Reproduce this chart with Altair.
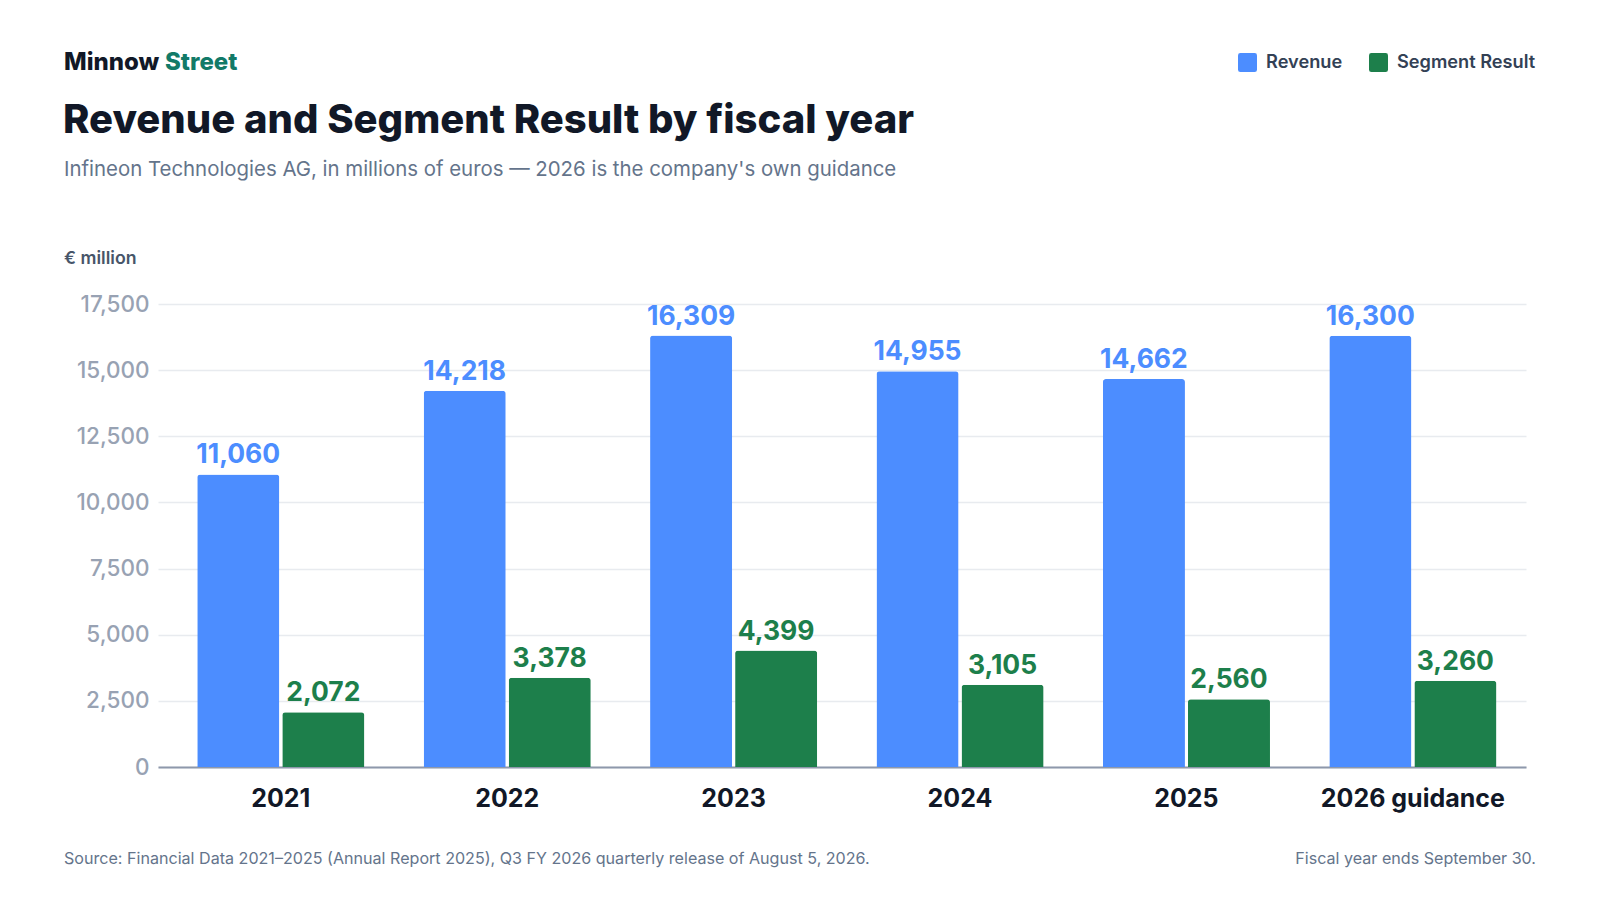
import altair as alt
import pandas as pd

years = ["2021", "2022", "2023", "2024", "2025", "2026 guidance"]
revenue = [11060, 14218, 16309, 14955, 14662, 16300]
segment = [2072, 3378, 4399, 3105, 2560, 3260]
series_names = ["Revenue", "Segment Result"]
series_colors = ["#4C8DFF", "#1D7F4B"]
y_ticks = [0, 2500, 5000, 7500, 10000, 12500, 15000, 17500]

rows = []
for i, yr in enumerate(years):
    rows.append({"year": yr, "series": series_names[0], "value": revenue[i]})
    rows.append({"year": yr, "series": series_names[1], "value": segment[i]})
df = pd.DataFrame(rows)

FONT = "Inter"
W, H = 1368, 463

x_enc = alt.X("year:N", sort=years,
              scale=alt.Scale(paddingInner=0.262, paddingOuter=0.152, align=0.57),
              axis=alt.Axis(title=None, labelAngle=0, labelFont=FONT, labelFontSize=25,
                            labelFontWeight=700, labelColor="#111827", labelPadding=19,
                            labelLimit=0, labelOverlap=False,
                            ticks=False, domain=True, domainColor="#8E98AB",
                            domainWidth=2, grid=False))
xoff = alt.XOffset("series:N", sort=series_names, scale=alt.Scale(paddingInner=0.035))
color_enc = alt.Color("series:N", sort=series_names,
                      scale=alt.Scale(domain=series_names, range=series_colors),
                      legend=alt.Legend(title=None, orient="none", direction="horizontal",
                                        legendX=1080, legendY=-251,
                                        labelFont=FONT, labelFontSize=18.2, labelFontWeight=600,
                                        labelColor="#334155", symbolSize=361,
                                        symbolType="M -0.75 -1 H 0.75 Q 1 -1 1 -0.75 V 0.75 Q 1 1 0.75 1 H -0.75 Q -1 1 -1 0.75 V -0.75 Q -1 -1 -0.75 -1 Z",
                                        symbolStrokeWidth=0, symbolOpacity=1,
                                        columnPadding=26, labelOffset=9))

bars = alt.Chart(df).mark_bar(cornerRadiusTopLeft=3, cornerRadiusTopRight=3).encode(
    x=x_enc,
    xOffset=xoff,
    y=alt.Y("value:Q", scale=alt.Scale(domain=[0, 17500], nice=False),
            axis=alt.Axis(title=None, values=y_ticks, format=",d", labelFont=FONT,
                          labelFontSize=22.5, labelFontWeight=500, labelColor="#98A2B3",
                          labelPadding=9, ticks=False, domain=False, grid=True,
                          gridColor="#E8EBEF", gridWidth=1.5)),
    color=color_enc,
)

labels = alt.Chart(df).mark_text(font=FONT, fontSize=26.5, fontWeight=700,
                                 baseline="bottom", dy=-5).encode(
    x=alt.X("year:N", sort=years),
    xOffset=alt.XOffset("series:N", sort=series_names),
    y=alt.Y("value:Q"),
    text=alt.Text("value:Q", format=",d"),
    color=alt.Color("series:N", sort=series_names, legend=None),
)

def txt(s, x, y, size, weight, color, align="left"):
    return alt.Chart(pd.DataFrame({"t": [s]})).mark_text(
        font=FONT, fontSize=size, fontWeight=weight, color=color, align=align,
        baseline="middle").encode(x=alt.value(x), y=alt.value(y), text="t:N")

brand1 = txt("Minnow", -94, -241, 24, 800, "#111827")
brand2 = txt("Street", 7, -241, 24, 800, "#127A68")
title = txt("Revenue and Segment Result by fiscal year", -95, -183, 40, 800, "#111827")
subtitle = txt("Infineon Technologies AG, in millions of euros \u2014 2026 is the company's own guidance",
               -94, -134, 20.4, 400, "#64748B")
unit = txt("\u20ac million", -94, -45, 17.7, 600, "#475569")
src = txt("Source: Financial Data 2021\u20132025 (Annual Report 2025), Q3 FY 2026 quarterly release of August 5, 2026.",
          -94, 555, 16.1, 400, "#64748B")
note = txt("Fiscal year ends September 30.", 1378, 555, 16.1, 400, "#64748B", align="right")

chart = alt.layer(bars, labels, brand1, brand2, title, subtitle, unit, src, note).resolve_scale(
    color="shared"
).properties(
    width=W, height=H,
    padding={"left": 150, "top": 296, "right": 60, "bottom": 120},
    autosize=alt.AutoSizeParams(type="none"),
    background="white",
).configure_view(stroke=None)

chart.save("out.html", embed_options={"renderer": "svg", "actions": False})
